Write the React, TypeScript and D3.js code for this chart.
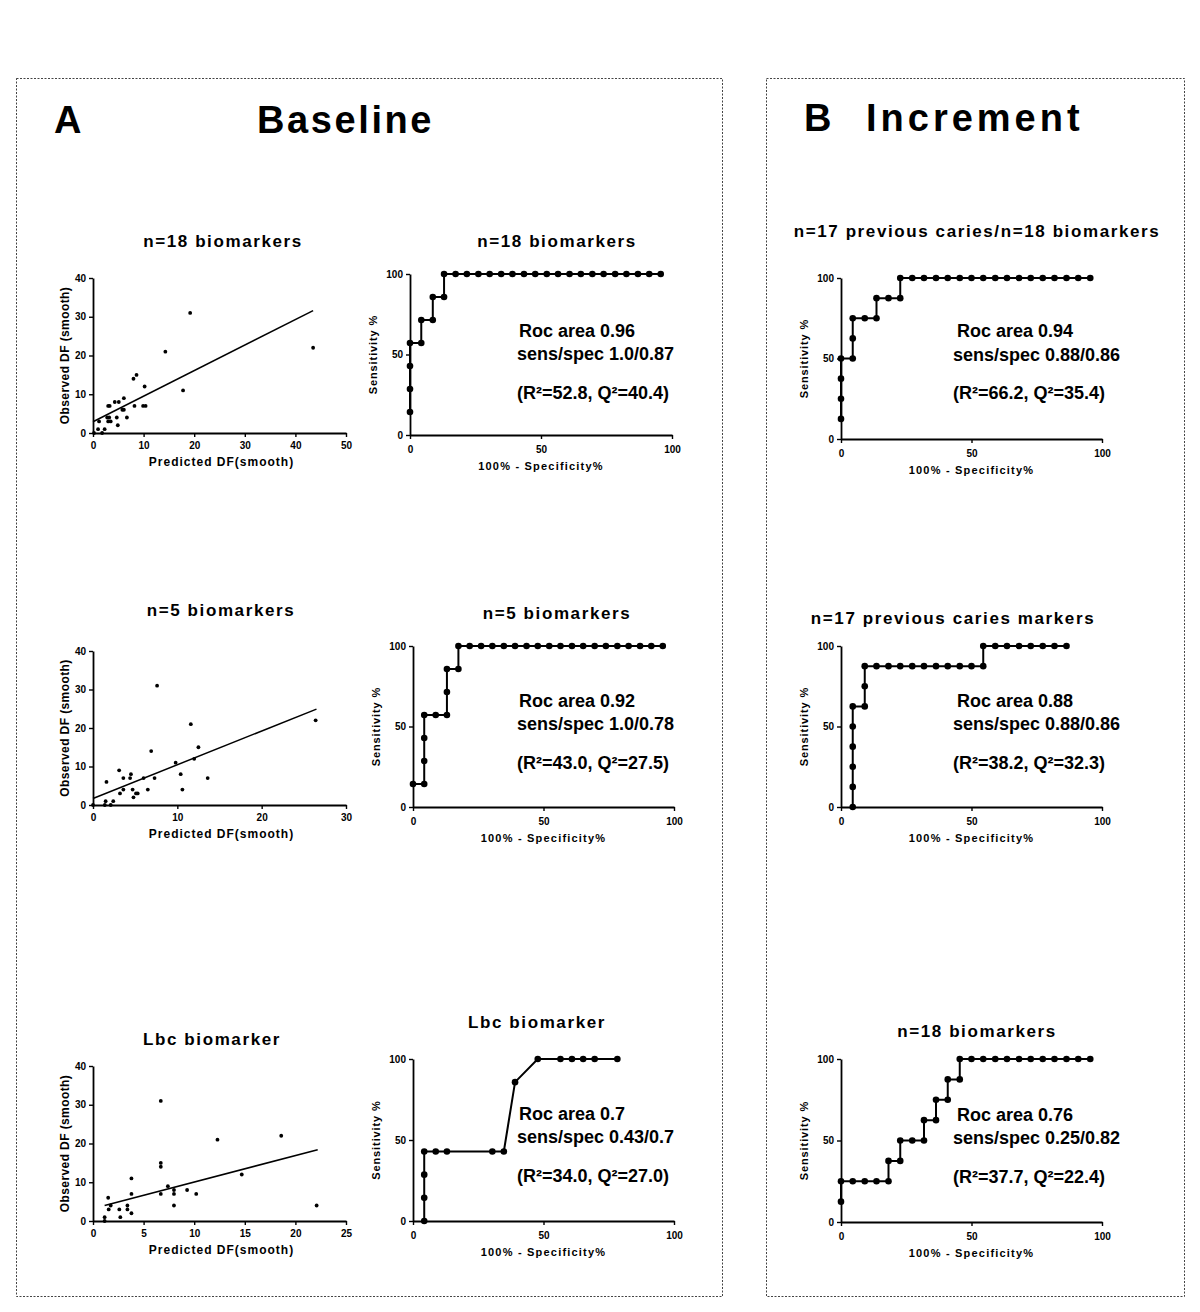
import React, {useEffect, useRef} from 'react';
import * as d3 from 'd3';

const FONT = '"Liberation Sans", Arial, Helvetica, sans-serif';

// ---- scatter data (predicted vs observed DF) ----
const s1X = [0.2, 1.0, 1.2, 1.8, 2.3, 2.8, 3.0, 3.3, 3.2, 3.0, 3.5, 4.3, 4.7, 4.9, 5.1, 5.8, 6.1, 6.1, 6.7, 8.0, 8.6, 8.2, 9.9, 10.4, 10.2, 14.3, 17.8, 19.2, 43.5];
const s1Y = [0, 1, 3, 0, 1, 4, 7, 7, 4, 3, 3, 8, 4, 2, 8, 6, 9, 6, 4, 14, 15, 7, 7, 7, 12, 21, 11, 31, 22];
const fit1X = [0, 43.5];
const fit1Y = [2.9, 31.6];

const s2X = [0, 1.5, 1.4, 1.6, 2.1, 2.4, 3.1, 3.2, 3.6, 3.6, 4.4, 4.5, 4.7, 4.8, 5.1, 5.3, 6.0, 6.5, 6.9, 7.3, 7.6, 9.8, 10.4, 10.6, 11.6, 12.0, 12.5, 13.6, 26.4];
const s2Y = [0, 1, 0, 6, 0, 1, 9, 3, 7, 4, 7, 8, 4, 2, 3, 3, 7, 4, 14, 7, 31, 11, 8, 4, 21, 12, 15, 7, 22];
const fit2X = [0, 26.5];
const fit2Y = [1.7, 24.9];

const s3X = [1.15, 1.15, 1.5, 1.55, 1.75, 2.6, 2.7, 3.4, 3.4, 3.8, 3.8, 3.8, 6.7, 6.7, 6.7, 6.7, 7.4, 8.0, 8.0, 8.0, 9.3, 10.2, 12.3, 14.7, 18.6, 22.1];
const s3Y = [1, 0, 6, 3, 4, 3, 1, 4, 3, 11, 7, 2, 31, 15, 14, 7, 9, 8, 7, 4, 8, 7, 21, 12, 22, 4];
const fit3X = [1.15, 22.2];
const fit3Y = [4.0, 18.4];

// ---- ROC data (100% - specificity, sensitivity) ----
const roc1X = [0, 0, 0, 0, 4.3, 4.3, 8.7, 8.7, 13.0, 13.0, 17.4, 21.7, 26.1, 30.4, 34.8, 39.1, 43.5, 47.8, 52.2, 56.5, 60.9, 65.2, 69.6, 73.9, 78.3, 82.6, 87.0, 91.3, 95.7];
const roc1Y = [14.3, 28.6, 42.9, 57.1, 57.1, 71.4, 71.4, 85.7, 85.7, 100, 100, 100, 100, 100, 100, 100, 100, 100, 100, 100, 100, 100, 100, 100, 100, 100, 100, 100, 100];

const roc2X = [0, 4.3, 4.3, 4.3, 4.3, 8.7, 13.0, 13.0, 13.0, 17.4, 17.4, 21.7, 26.1, 30.4, 34.8, 39.1, 43.5, 47.8, 52.2, 56.5, 60.9, 65.2, 69.6, 73.9, 78.3, 82.6, 87.0, 91.3, 95.7];
const roc2Y = [14.3, 14.3, 28.6, 42.9, 57.1, 57.1, 57.1, 71.4, 85.7, 85.7, 100, 100, 100, 100, 100, 100, 100, 100, 100, 100, 100, 100, 100, 100, 100, 100, 100, 100, 100];

const roc3X = [4.3, 4.3, 4.3, 4.3, 8.7, 13.0, 30.4, 34.8, 39.1, 47.8, 56.5, 60.9, 65.2, 69.6, 78.3];
const roc3Y = [0, 14.3, 28.6, 42.9, 42.9, 42.9, 42.9, 42.9, 85.7, 100, 100, 100, 100, 100, 100];

const roc4X = [0, 0, 0, 0, 4.5, 4.5, 4.5, 9.1, 13.6, 13.6, 18.2, 22.7, 22.7, 27.3, 31.8, 36.4, 40.9, 45.5, 50.0, 54.5, 59.1, 63.6, 68.2, 72.7, 77.3, 81.8, 86.4, 90.9, 95.5];
const roc4Y = [12.5, 25, 37.5, 50, 50, 62.5, 75, 75, 75, 87.5, 87.5, 87.5, 100, 100, 100, 100, 100, 100, 100, 100, 100, 100, 100, 100, 100, 100, 100, 100, 100];

const roc5X = [4.5, 4.5, 4.5, 4.5, 4.5, 4.5, 9.1, 9.1, 9.1, 13.6, 18.2, 22.7, 27.3, 31.8, 36.4, 40.9, 45.5, 50.0, 54.5, 54.5, 59.1, 63.6, 68.2, 72.7, 77.3, 81.8, 86.4];
const roc5Y = [0, 12.5, 25, 37.5, 50, 62.5, 62.5, 75, 87.5, 87.5, 87.5, 87.5, 87.5, 87.5, 87.5, 87.5, 87.5, 87.5, 87.5, 100, 100, 100, 100, 100, 100, 100, 100];

const roc6X = [0, 0, 4.5, 9.1, 13.6, 18.2, 18.2, 22.7, 22.7, 27.3, 31.8, 31.8, 36.4, 36.4, 40.9, 40.9, 45.5, 45.5, 50.0, 54.5, 59.1, 63.6, 68.2, 72.7, 77.3, 81.8, 86.4, 90.9, 95.5];
const roc6Y = [12.5, 25, 25, 25, 25, 25, 37.5, 37.5, 50, 50, 50, 62.5, 62.5, 75, 75, 87.5, 87.5, 100, 100, 100, 100, 100, 100, 100, 100, 100, 100, 100, 100];

// ---- tick labels ----
const scatterYTicks = [0, 10, 20, 30, 40];
const s1XTicks = [0, 10, 20, 30, 40, 50];
const s2XTicks = [0, 10, 20, 30];
const s3XTicks = [0, 5, 10, 15, 20, 25];
const rocTicks = [0, 50, 100];

interface AxisProps {
    scale: d3.ScaleLinear<number, number>
    orient: 'bottom' | 'left'
    x: number
    y: number
    ticks: number[]
    pad: number
}

const Axis = ({scale, orient, x, y, ticks, pad}: AxisProps) => {
    const ref = useRef<SVGGElement>(null);
    useEffect(() => {
        const ax = (orient === 'bottom' ? d3.axisBottom(scale) : d3.axisLeft(scale))
            .tickValues(ticks)
            .tickSizeInner(4)
            .tickSizeOuter(0)
            .tickPadding(pad)
            .tickFormat(d3.format('d'));
        const g = d3.select(ref.current).call(ax as any);
        g.attr('font-family', null).attr('font-size', null);
        g.select('.domain').attr('stroke', '#000').attr('stroke-width', 1.8);
        g.selectAll('.tick line').attr('stroke', '#000').attr('stroke-width', 1.4);
        g.selectAll('.tick text')
            .attr('fill', '#000')
            .style('font-family', FONT)
            .style('font-size', '10px')
            .style('font-weight', 'bold');
    }, [scale, orient, ticks, pad]);
    return <g ref={ref} transform={`translate(${x},${y})`}/>;
};

interface ScatterProps {
    xs: number[]
    ys: number[]
    fitX: number[]
    fitY: number[]
    xMax: number
    xTicks: number[]
    left: number
    right: number
    top: number
    bottom: number
    title: string
    titleX: number
    titleY: number
}

const Scatter = ({xs, ys, fitX, fitY, xMax, xTicks, left, right, top, bottom, title, titleX, titleY}: ScatterProps) => {
    const x = d3.scaleLinear().domain([0, xMax]).range([left, right]);
    const y = d3.scaleLinear().domain([0, 40]).range([bottom, top]);
    const fit = d3.line<number>().x((d) => x(d)).y((d, i) => y(fitY[i]))(fitX);
    const midY = (top + bottom) / 2;
    return (
        <g>
            <text x={titleX} y={titleY} textAnchor="middle" fontSize={17} fontWeight="bold" letterSpacing={1.6}>{title}</text>
            <path d={fit || ''} fill="none" stroke="#000" strokeWidth={1.5}/>
            {xs.map((d, i) => <circle key={i} cx={x(d)} cy={y(ys[i])} r={1.9} fill="#000"/>)}
            <Axis scale={x} orient="bottom" x={0} y={bottom} ticks={xTicks} pad={5}/>
            <Axis scale={y} orient="left" x={left} y={0} ticks={scatterYTicks} pad={3}/>
            <text x={(left + right) / 2 + 2} y={bottom + 33} textAnchor="middle" fontSize={12} fontWeight="bold" letterSpacing={1}>Predicted DF(smooth)</text>
            <text transform={`translate(${left - 24},${midY}) rotate(-90)`} textAnchor="middle" fontSize={12} fontWeight="bold" letterSpacing={0.4}>Observed DF (smooth)</text>
        </g>
    );
};

interface RocProps {
    xs: number[]
    ys: number[]
    left: number
    right: number
    top: number
    bottom: number
    title: string
    titleX: number
    titleY: number
    notes: string[]
    noteX: number[]
    noteY: number[]
}

const Roc = ({xs, ys, left, right, top, bottom, title, titleX, titleY, notes, noteX, noteY}: RocProps) => {
    const x = d3.scaleLinear().domain([0, 100]).range([left, right]);
    const y = d3.scaleLinear().domain([0, 100]).range([bottom, top]);
    const path = d3.line<number>().x((d) => x(d)).y((d, i) => y(ys[i]))(xs);
    const midY = (top + bottom) / 2;
    return (
        <g>
            <text x={titleX} y={titleY} textAnchor="middle" fontSize={17} fontWeight="bold" letterSpacing={1.6}>{title}</text>
            <Axis scale={x} orient="bottom" x={0} y={bottom} ticks={rocTicks} pad={7}/>
            <Axis scale={y} orient="left" x={left} y={0} ticks={rocTicks} pad={3}/>
            <path d={path || ''} fill="none" stroke="#000" strokeWidth={2}/>
            {xs.map((d, i) => <circle key={i} cx={x(d)} cy={y(ys[i])} r={3.3} fill="#000"/>)}
            <text x={(left + right) / 2} y={bottom + 35} textAnchor="middle" fontSize={11} fontWeight="bold" letterSpacing={1.2}>100%  - Specificity%</text>
            <text transform={`translate(${left - 33},${midY}) rotate(-90)`} textAnchor="middle" fontSize={11} fontWeight="bold" letterSpacing={0.9}>Sensitivity %</text>
            {notes.map((t, i) => (
                <text key={i} x={noteX[i]} y={noteY[i]} fontSize={18} fontWeight="bold">{t}</text>
            ))}
        </g>
    );
};

const App = () => {
    return (
        <svg
            width={1200}
            height={1312}
            viewBox="0 0 1200 1312"
            style={{position: 'absolute', left: 0, top: 0, background: '#fff'}}
            fontFamily={FONT}
        >
            <rect x={0} y={0} width={1200} height={1312} fill="#fff"/>
            {/* panel frames */}
            <rect x={16.5} y={78.5} width={706} height={1218} fill="none" stroke="#444" strokeWidth={1} strokeDasharray="2 1.5"/>
            <rect x={766.5} y={78.5} width={418} height={1218} fill="none" stroke="#444" strokeWidth={1} strokeDasharray="2 1.5"/>

            <text x={54} y={133} fontSize={38} fontWeight="bold">A</text>
            <text x={257} y={133} fontSize={38} fontWeight="bold" letterSpacing={2.6}>Baseline</text>
            <text x={804} y={131} fontSize={38} fontWeight="bold">B</text>
            <text x={866} y={131} fontSize={38} fontWeight="bold" letterSpacing={4}>Increment</text>

            <Scatter xs={s1X} ys={s1Y} fitX={fit1X} fitY={fit1Y} xMax={50} xTicks={s1XTicks}
                     left={93} right={346} top={278} bottom={433}
                     title="n=18 biomarkers" titleX={223} titleY={247}/>
            <Scatter xs={s2X} ys={s2Y} fitX={fit2X} fitY={fit2Y} xMax={30} xTicks={s2XTicks}
                     left={93} right={346} top={651} bottom={805}
                     title="n=5 biomarkers" titleX={221} titleY={616}/>
            <Scatter xs={s3X} ys={s3Y} fitX={fit3X} fitY={fit3Y} xMax={25} xTicks={s3XTicks}
                     left={93} right={346} top={1066} bottom={1221}
                     title="Lbc biomarker" titleX={212} titleY={1045}/>

            <Roc xs={roc1X} ys={roc1Y} left={410} right={672} top={274} bottom={435}
                 title="n=18 biomarkers" titleX={557} titleY={247}
                 notes={['Roc area 0.96', 'sens/spec 1.0/0.87', '(R²=52.8, Q²=40.4)']}
                 noteX={[519, 517, 517]} noteY={[337, 360, 399]}/>
            <Roc xs={roc2X} ys={roc2Y} left={413} right={674} top={646} bottom={807}
                 title="n=5 biomarkers" titleX={557} titleY={619}
                 notes={['Roc area 0.92', 'sens/spec 1.0/0.78', '(R²=43.0, Q²=27.5)']}
                 noteX={[519, 517, 517]} noteY={[707, 730, 769]}/>
            <Roc xs={roc3X} ys={roc3Y} left={413} right={674} top={1059} bottom={1221}
                 title="Lbc biomarker" titleX={537} titleY={1028}
                 notes={['Roc area 0.7', 'sens/spec 0.43/0.7', '(R²=34.0, Q²=27.0)']}
                 noteX={[519, 517, 517]} noteY={[1120, 1143, 1182]}/>

            <Roc xs={roc4X} ys={roc4Y} left={841} right={1102} top={278} bottom={439}
                 title="n=17 previous caries/n=18 biomarkers" titleX={977} titleY={237}
                 notes={['Roc area 0.94', 'sens/spec 0.88/0.86', '(R²=66.2, Q²=35.4)']}
                 noteX={[957, 953, 953]} noteY={[337, 361, 399]}/>
            <Roc xs={roc5X} ys={roc5Y} left={841} right={1102} top={646} bottom={807}
                 title="n=17 previous caries markers" titleX={953} titleY={624}
                 notes={['Roc area 0.88', 'sens/spec 0.88/0.86', '(R²=38.2, Q²=32.3)']}
                 noteX={[957, 953, 953]} noteY={[707, 730, 769]}/>
            <Roc xs={roc6X} ys={roc6Y} left={841} right={1102} top={1059} bottom={1222}
                 title="n=18 biomarkers" titleX={977} titleY={1037}
                 notes={['Roc area 0.76', 'sens/spec 0.25/0.82', '(R²=37.7, Q²=22.4)']}
                 noteX={[957, 953, 953]} noteY={[1121, 1144, 1183]}/>
        </svg>
    );
};

export default App;
